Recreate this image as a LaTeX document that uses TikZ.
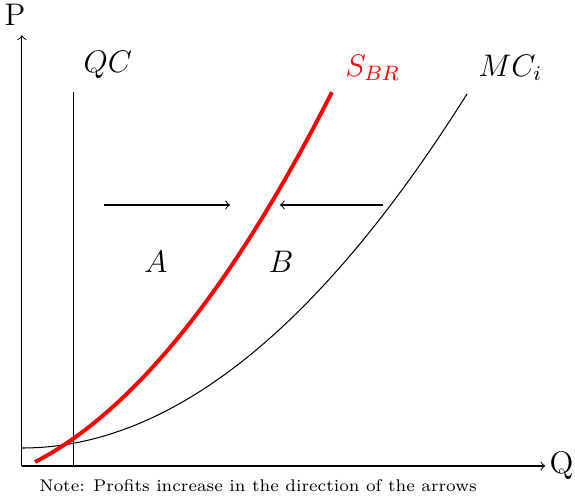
\documentclass[tikz,border=0pt]{standalone}
\usepackage{tikz}
\usetikzlibrary{arrows, positioning, calc}

\begin{document}
\begin{tikzpicture}[
            axis/.style={->},
            curve/.style={black, thin, samples=60},
            brcurve/.style={red, line width=1.5pt, samples=60},
            lbl/.style={font=\large},
            arr/.style={->}
        ]
            \useasboundingbox (-0.297,-0.405) rectangle (7.473,6.297);

            % Axes
            \coordinate (O) at (0,0);
            \coordinate (xend) at (7.07,0);
            \coordinate (yend) at (0,5.82);
            \draw[axis] (O) -- (xend);
            \draw[axis] (O) -- (yend);
            \node[lbl] (qlab) at (7.29,0.01) {Q};
            \node[lbl] (plab) at (-0.095,6.09) {P};

            % Quantity constraint
            \coordinate (qcbot) at (0.69,0);
            \coordinate (qctop) at (0.69,5.05);
            \draw (qcbot) -- (qctop);
            \node[lbl] (qclab) at (1.16,5.42) {$QC$};

            % Marginal cost and best response
            \draw[curve, domain=0:6.014] plot (\x, {0.243+0.1323*\x*\x});
            \node[lbl] (mclab) at (6.6,5.38) {$MC_i$};
            \draw[brcurve, domain=0.176:4.189] plot (\x, {-0.0316+0.454*\x+0.1814*\x*\x});
            \node[lbl, red] (brlab) at (4.74,5.38) {$S_{BR}$};

            % Regions and arrows
            \node[lbl] (A) at (1.81,2.76) {$A$};
            \node[lbl] (B) at (3.50,2.76) {$B$};
            \coordinate (a1) at (1.108,3.527);
            \coordinate (a2) at (2.81,3.527);
            \coordinate (b1) at (4.878,3.527);
            \coordinate (b2) at (3.486,3.527);
            \draw[arr] (a1) -- (a2);
            \draw[arr] (b1) -- (b2);

            % Note
            \node[font=\fontsize{6.5pt}{8pt}\selectfont] (note) at (3.19,-0.27) {Note: Profits increase in the direction of the arrows};

        \end{tikzpicture}
\end{document}
